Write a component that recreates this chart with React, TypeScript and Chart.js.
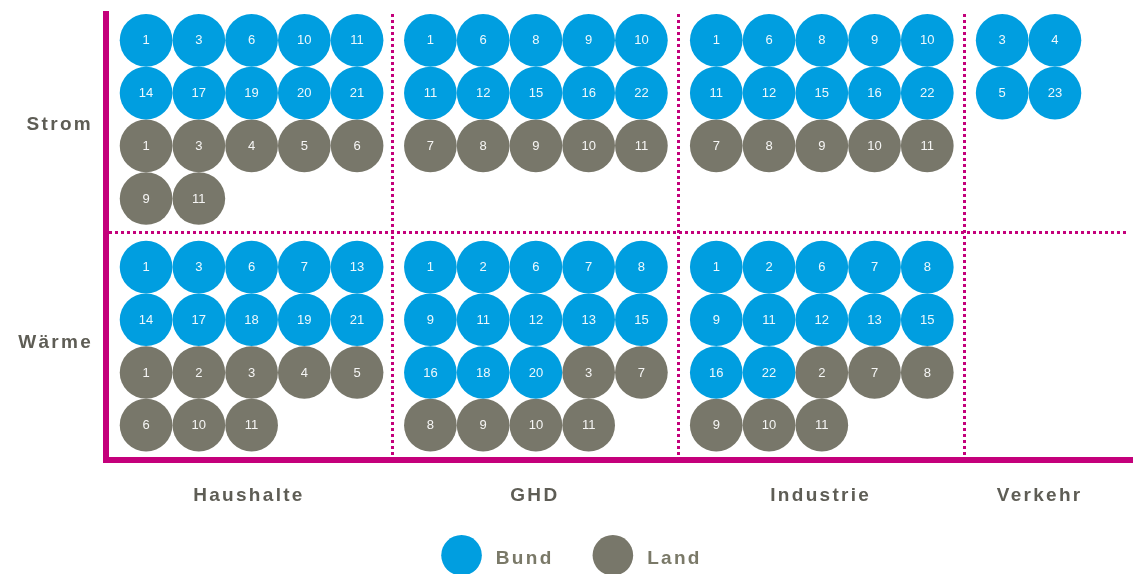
import React, { useEffect, useRef } from 'react';
import { Chart, registerables } from 'chart.js';

Chart.register(...registerables);

// ---- Data ----
const CATEGORIES = ['Haushalte', 'GHD', 'Industrie', 'Verkehr'];
const ROWS = ['Strom', 'Wärme'];
const SERIES = ['Bund', 'Land'];

// numbers shown in the circles, per category (same order as CATEGORIES)
const BUND_STROM = [
  [1, 3, 6, 10, 11, 14, 17, 19, 20, 21],
  [1, 6, 8, 9, 10, 11, 12, 15, 16, 22],
  [1, 6, 8, 9, 10, 11, 12, 15, 16, 22],
  [3, 4, 5, 23],
];
const LAND_STROM = [
  [1, 3, 4, 5, 6, 9, 11],
  [7, 8, 9, 10, 11],
  [7, 8, 9, 10, 11],
  [],
];
const BUND_WAERME = [
  [1, 3, 6, 7, 13, 14, 17, 18, 19, 21],
  [1, 2, 6, 7, 8, 9, 11, 12, 13, 15, 16, 18, 20],
  [1, 2, 6, 7, 8, 9, 11, 12, 13, 15, 16, 22],
  [],
];
const LAND_WAERME = [
  [1, 2, 3, 4, 5, 6, 10, 11],
  [3, 7, 8, 9, 10, 11],
  [2, 7, 8, 9, 10, 11],
  [],
];

// ---- Layout / style constants ----
const COLS = [5, 5, 5, 2];
const SECTION_W = 5.42;
const X_OFF = 0.76;
const X_MAX = 19.47;
const ROW_START = [0.5, 4.8];
const ROW_DIVIDER = 4.14;
const Y_MAX = 8.46;
const LABEL_X = [2.71, 8.13, 13.55, 17.7];
const LABEL_Y = [2.1, 6.24];
const R = 26.35;

const BLUE = '#009EE0';
const GRAY = '#78776A';
const MAGENTA = '#C4007B';
const LABEL_COLOR = '#5E5D55';
const LEGEND_COLOR = '#7A7968';
const FONT = '"Liberation Sans", Arial, sans-serif';

type Pt = { x: number; y: number; n: number };

function buildPoints(series: string): Pt[] {
  const pts: Pt[] = [];
  const groups = [
    [BUND_STROM, LAND_STROM],
    [BUND_WAERME, LAND_WAERME],
  ];
  groups.forEach(([bund, land], r) => {
    CATEGORIES.forEach((_, c) => {
      const seq = [
        ...bund[c].map((n) => ({ n, s: 'Bund' })),
        ...land[c].map((n) => ({ n, s: 'Land' })),
      ];
      seq.forEach((it, k) => {
        if (it.s !== series) return;
        const col = k % COLS[c];
        const row = Math.floor(k / COLS[c]);
        pts.push({ x: c * SECTION_W + X_OFF - (c > 0 ? 0.03 : 0) + col, y: ROW_START[r] + row, n: it.n });
      });
    });
  });
  return pts;
}

const spacingPlugin = {
  id: 'spacing',
  beforeDraw(chart: any) {
    chart.ctx.letterSpacing = '2.3px';
  },
  afterDraw(chart: any) {
    chart.ctx.letterSpacing = '0px';
  },
};

const dividerPlugin = {
  id: 'dividers',
  beforeDatasetsDraw(chart: any) {
    const { ctx, chartArea } = chart;
    const xs = chart.scales.x;
    const ys = chart.scales.y;
    ctx.save();
    ctx.strokeStyle = MAGENTA;
    ctx.lineWidth = 3;
    ctx.setLineDash([3, 3]);
    for (let i = 1; i < CATEGORIES.length; i++) {
      const x = Math.round(xs.getPixelForValue(i * SECTION_W)) + 0.5;
      ctx.beginPath();
      ctx.moveTo(x, chartArea.top);
      ctx.lineTo(x, chartArea.bottom - 3);
      ctx.stroke();
    }
    const y = Math.round(ys.getPixelForValue(ROW_DIVIDER)) + 0.5;
    ctx.beginPath();
    ctx.moveTo(chartArea.left + 3, y);
    ctx.lineTo(chartArea.right - 5, y);
    ctx.stroke();
    ctx.restore();
  },
};

const numberPlugin = {
  id: 'numbers',
  afterDatasetsDraw(chart: any) {
    const ctx = chart.ctx;
    ctx.save();
    ctx.letterSpacing = '0px';
    ctx.font = `13px ${FONT}`;
    ctx.fillStyle = 'rgba(255,255,255,0.93)';
    ctx.textAlign = 'center';
    ctx.textBaseline = 'middle';
    chart.data.datasets.forEach((ds: any, i: number) => {
      const meta = chart.getDatasetMeta(i);
      meta.data.forEach((el: any, j: number) => {
        ctx.fillText(String(ds.data[j].n), el.x, el.y + 0.5);
      });
    });
    ctx.restore();
  },
};

const legendPlugin = {
  id: 'customLegend',
  afterDraw(chart: any) {
    const ctx = chart.ctx;
    ctx.save();
    ctx.letterSpacing = '2.3px';
    ctx.font = `bold 19px ${FONT}`;
    const items = chart.data.datasets.map((ds: any) => ({
      label: ds.label,
      color: ds.pointBackgroundColor,
      w: ctx.measureText(ds.label).width,
    }));
    const dot = 40.6;
    const gapText = 14;
    const gapItem = 39;
    const total =
      items.reduce((s: number, it: any) => s + dot + gapText + it.w, 0) + gapItem * (items.length - 1);
    let x = (chart.width - total) / 2 + 5;
    const cy = 555.3;
    items.forEach((it: any) => {
      ctx.fillStyle = it.color;
      ctx.beginPath();
      ctx.arc(x + dot / 2, cy, dot / 2, 0, Math.PI * 2);
      ctx.fill();
      x += dot + gapText;
      ctx.fillStyle = LEGEND_COLOR;
      ctx.textAlign = 'left';
      ctx.textBaseline = 'alphabetic';
      ctx.fillText(it.label, x, 564);
      x += it.w + gapItem;
    });
    ctx.restore();
  },
};

export default function App() {
  const ref = useRef<HTMLCanvasElement | null>(null);

  useEffect(() => {
    document.body.style.margin = '0';
    if (!ref.current) return;
    const chart = new Chart(ref.current, {
      type: 'scatter',
      data: {
        datasets: SERIES.map((s, i) => ({
          label: s,
          data: buildPoints(s) as any,
          pointRadius: R,
          pointHoverRadius: R,
          pointBorderWidth: 0,
          pointHoverBorderWidth: 0,
          pointBackgroundColor: i === 0 ? BLUE : GRAY,
          pointHoverBackgroundColor: i === 0 ? BLUE : GRAY,
          backgroundColor: i === 0 ? BLUE : GRAY,
          showLine: false,
          clip: false as any,
        })),
      },
      options: {
        responsive: false,
        animation: false,
        events: [],
        layout: { autoPadding: false, padding: { top: 14, left: 0, right: 0, bottom: 0 } },
        plugins: {
          legend: { display: false },
          tooltip: { enabled: false },
        },
        scales: {
          x: {
            type: 'linear',
            position: 'bottom',
            min: 0,
            max: X_MAX,
            grid: { display: false, drawTicks: false },
            border: { display: true, color: MAGENTA, width: 6 },
            afterBuildTicks: (s: any) => {
              s.ticks = LABEL_X.map((v) => ({ value: v }));
            },
            afterFit: (s: any) => {
              s.height = 114;
              s.paddingLeft = 0;
              s.paddingRight = 0;
            },
            ticks: {
              autoSkip: false,
              maxRotation: 0,
              minRotation: 0,
              padding: 24,
              color: LABEL_COLOR,
              font: { family: FONT, size: 19, weight: 'bold' },
              callback: (_v: any, i: number) => CATEGORIES[i],
            },
          },
          y: {
            type: 'linear',
            min: 0,
            max: Y_MAX,
            reverse: true,
            grid: { display: false, drawTicks: false },
            border: { display: true, color: MAGENTA, width: 6 },
            afterBuildTicks: (s: any) => {
              s.ticks = LABEL_Y.map((v) => ({ value: v }));
            },
            afterFit: (s: any) => {
              s.width = 106;
              s.paddingTop = 0;
              s.paddingBottom = 0;
            },
            ticks: {
              autoSkip: false,
              padding: 13,
              color: LABEL_COLOR,
              font: { family: FONT, size: 19, weight: 'bold' },
              callback: (_v: any, i: number) => ROWS[i],
            },
          },
        },
      } as any,
      plugins: [spacingPlugin, dividerPlugin, numberPlugin, legendPlugin],
    });
    return () => chart.destroy();
  }, []);

  return (
    <div style={{ width: 1133, height: 574, position: 'relative', background: '#fff' }}>
      <canvas ref={ref} width={1133} height={574} style={{ display: 'block' }} />
    </div>
  );
}
